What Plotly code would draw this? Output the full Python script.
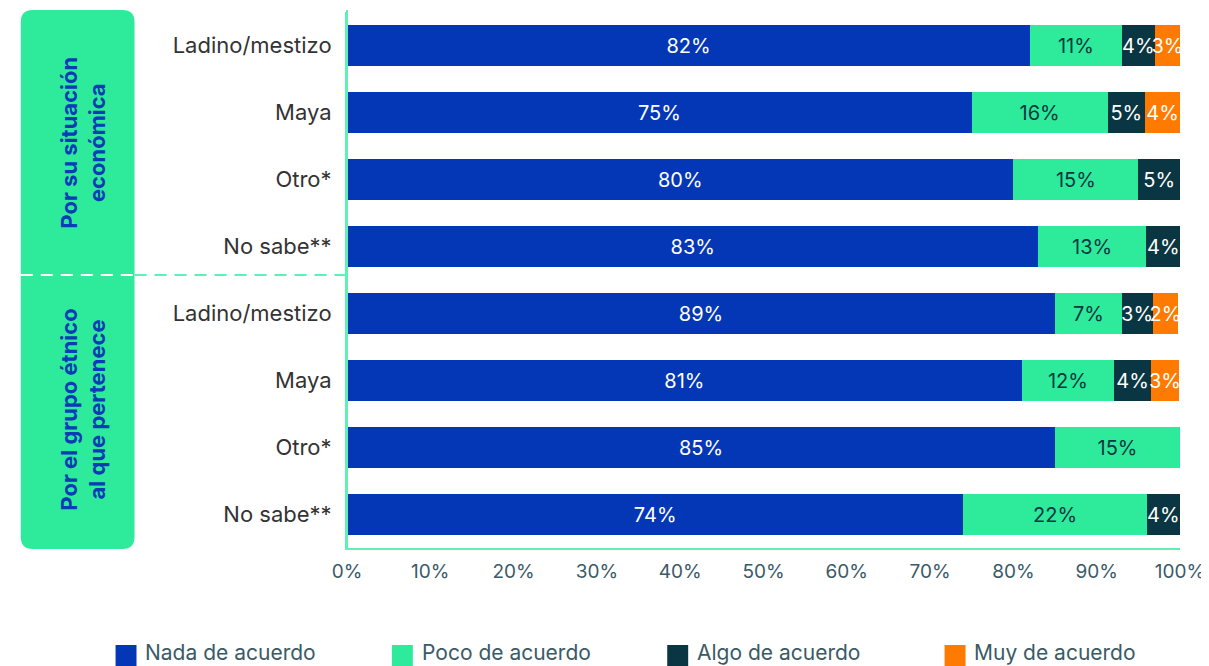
import plotly.graph_objects as go

# ---------------- data ----------------
categories = ["Ladino/mestizo", "Maya", "Otro*", "No sabe**",
              "Ladino/mestizo", "Maya", "Otro*", "No sabe**"]
series_names = ["Nada de acuerdo", "Poco de acuerdo", "Algo de acuerdo", "Muy de acuerdo"]

nada = [82, 75, 80, 83, 85, 81, 85, 74]
poco = [11, 16.3, 15, 12.9, 8, 11.1, 15, 22]
algo = [4, 4.5, 5, 4.2, 3.7, 4.4, 0, 4]
muy = [3, 4.2, 0, 0, 3.1, 3.4, 0, 0]

nada_lbl = ["82%", "75%", "80%", "83%", "89%", "81%", "85%", "74%"]
poco_lbl = ["11%", "16%", "15%", "13%", "7%", "12%", "15%", "22%"]
algo_lbl = ["4%", "5%", "5%", "4%", "3%", "4%", "", "4%"]
muy_lbl = ["3%", "4%", "", "", "2%", "3%", "", ""]

group_titles = ["Por su situación<br>económica", "Por el grupo étnico<br>al que pertenece"]
x_ticks = [0, 10, 20, 30, 40, 50, 60, 70, 80, 90, 100]

# ---------------- style ----------------
colors = ["#0437B5", "#2DEB9B", "#093642", "#FF7A00"]
text_colors = ["#FFFFFF", "#0A3642", "#FFFFFF", "#FFFFFF"]
FONT = "Inter, 'Open Sans', sans-serif"

OFF = 8  # page body margin
W, H = 1209 - OFF, 666 - OFF
L = 347 - OFF
T = 12 - OFF
R = W - (1182 - OFF)
B = H - (548 - OFF)
PW, PH = W - L - R, H - T - B


def px(x):
    return (x - OFF - L) / PW


def py(y):
    return (H - B - (y - OFF)) / PH


fig = go.Figure()
ypos = list(range(len(categories)))
for name, vals, lbls, c, tc in zip(series_names, [nada, poco, algo, muy],
                                   [nada_lbl, poco_lbl, algo_lbl, muy_lbl], colors, text_colors):
    fig.add_trace(go.Bar(
        y=ypos, x=vals, name=name, orientation="h",
        marker=dict(color=c, line=dict(width=0)),
        text=lbls, texttemplate="%{text}", textposition="inside", textangle=0,
        insidetextanchor="middle", constraintext="none",
        textfont=dict(color=tc, size=20, family=FONT),
        showlegend=False, hoverinfo="skip",
    ))

shapes = []
annotations = []

# grouping box
x0, x1, y0, y1 = 20, 134, 10, 549
rx, ry = 12 / PW, 12 / PH
X0, X1, Y0, Y1 = px(x0), px(x1), py(y0), py(y1)
path = (f"M {X0+rx} {Y0} L {X1-rx} {Y0} Q {X1} {Y0} {X1} {Y0-ry} "
        f"L {X1} {Y1+ry} Q {X1} {Y1} {X1-rx} {Y1} L {X0+rx} {Y1} "
        f"Q {X0} {Y1} {X0} {Y1+ry} L {X0} {Y0-ry} Q {X0} {Y0} {X0+rx} {Y0} Z")
shapes.append(dict(type="path", path=path, xref="paper", yref="paper",
                   fillcolor="#2DEB9B", line=dict(width=0), layer="below"))

# dashed separator
shapes.append(dict(type="line", xref="paper", yref="paper", x0=px(20), x1=px(134),
                   y0=py(275), y1=py(275), line=dict(color="#FFFFFF", width=2, dash="12px,8px")))
shapes.append(dict(type="line", xref="paper", yref="paper", x0=px(134), x1=px(347),
                   y0=py(275), y1=py(275), line=dict(color="#5EF0B5", width=2, dash="12px,8px")))

# left axis line extended to top
shapes.append(dict(type="line", xref="paper", yref="paper", x0=0, x1=0,
                   y0=0, y1=py(10), line=dict(color="#5EF0B5", width=2)))

# group titles
for title, yc in zip(group_titles, [143, 410]):
    annotations.append(dict(text=f"<b>{title}</b>", xref="paper", yref="paper",
                            x=px(82), y=py(yc), showarrow=False, textangle=-90,
                            font=dict(color="#0A3CB5", size=22, family=FONT),
                            xanchor="center", yanchor="middle"))

# custom legend
legend_x = [115, 392, 668, 946]
for name, c, lx in zip(series_names, colors, legend_x):
    shapes.append(dict(type="rect", xref="paper", yref="paper",
                       x0=px(lx), x1=px(lx + 21), y0=py(645), y1=py(666),
                       fillcolor=c, line=dict(width=0)))
    annotations.append(dict(text=name, xref="paper", yref="paper", x=px(lx + 28), y=py(652),
                            showarrow=False, xanchor="left", yanchor="middle",
                            font=dict(color="#3A5A66", size=21, family=FONT)))

fig.update_layout(
    width=W, height=H, margin=dict(l=L, r=R, t=T, b=B, pad=0),
    barmode="stack", bargap=0.4,
    plot_bgcolor="white", paper_bgcolor="white",
    font=dict(family=FONT),
    shapes=shapes, annotations=annotations,
    xaxis=dict(range=[0, 100], tickvals=x_ticks, ticktext=[f"{v}%" for v in x_ticks],
               showgrid=False, zeroline=False, showline=True, linecolor="#5EF0B5", linewidth=2,
               tickfont=dict(color="#3A5A66", size=19, family=FONT),
               ticks="", ticklabelstandoff=5),
    yaxis=dict(tickvals=ypos, ticktext=categories, range=[7.5, -0.5],
               showgrid=False, zeroline=False, showline=True, linecolor="#5EF0B5", linewidth=2,
               tickfont=dict(color="#333333", size=22, family=FONT),
               ticks="", ticklabelstandoff=9),
    showlegend=False,
)

fig.write_html("out.html")
